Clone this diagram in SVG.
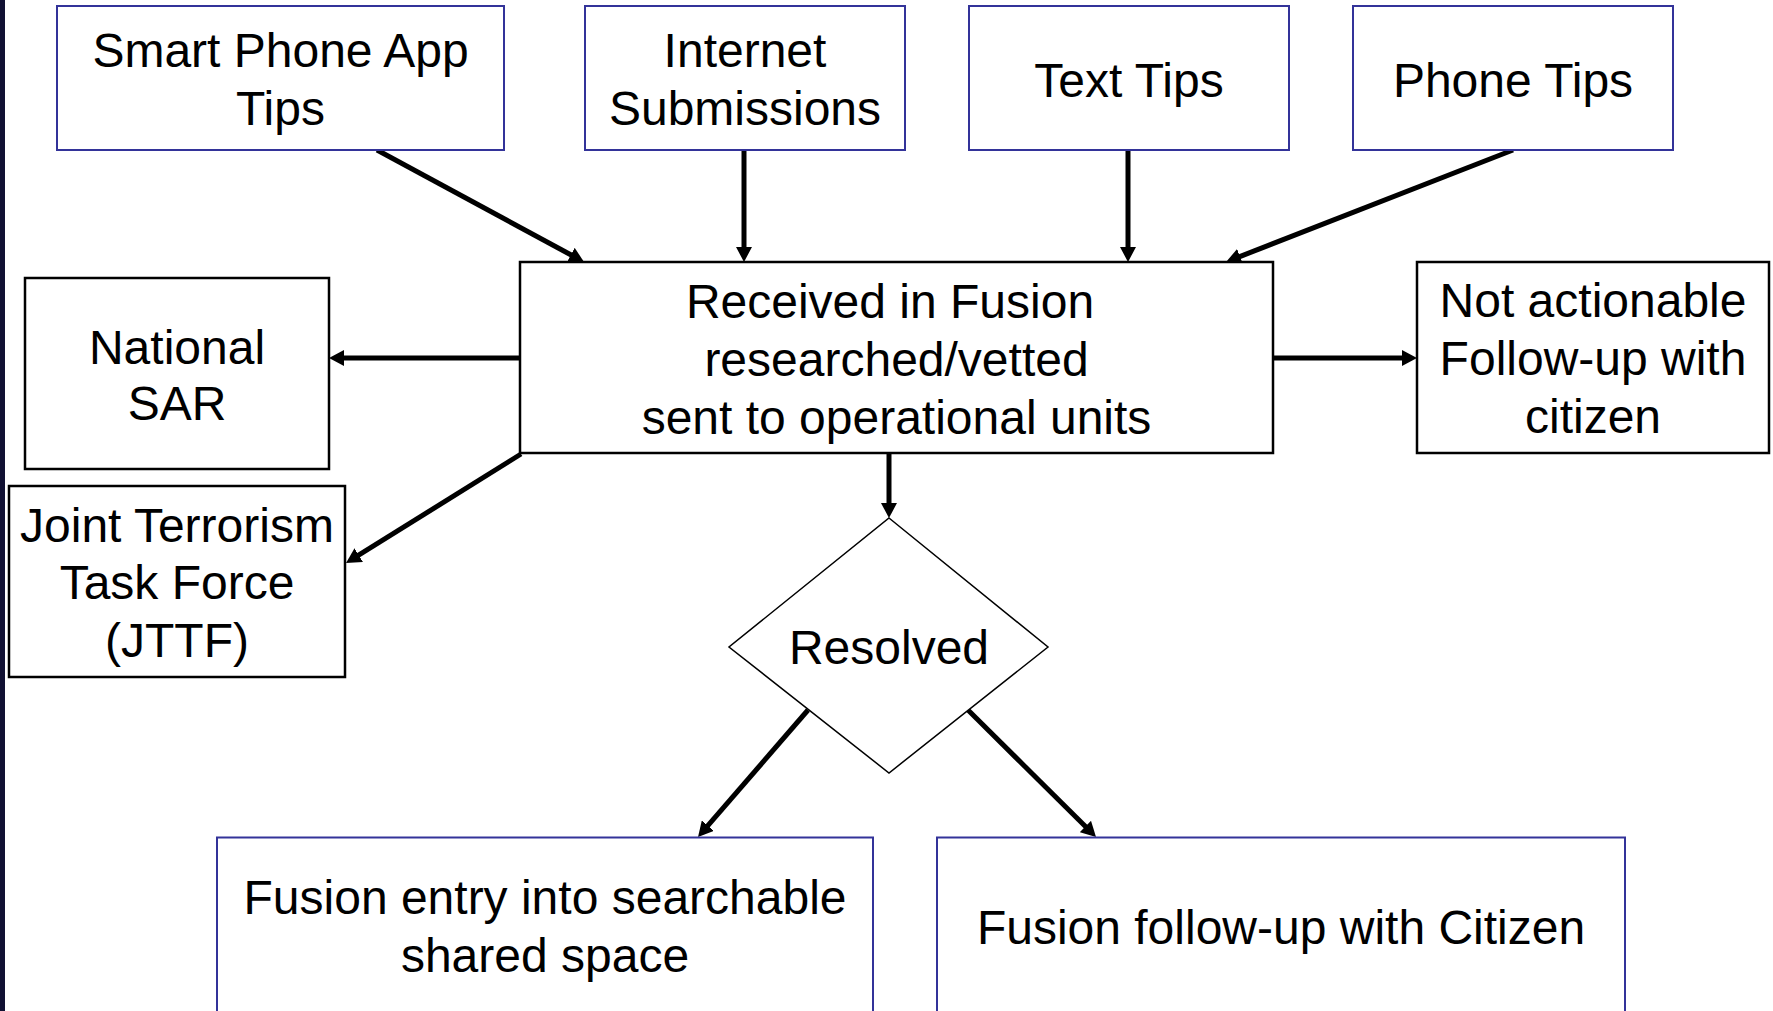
<svg xmlns="http://www.w3.org/2000/svg" width="1773" height="1011" viewBox="0 0 1773 1011">
<style>
text{font-family:"Liberation Sans",Arial,sans-serif;font-size:48px;fill:#000;text-anchor:middle}
.blue{fill:#fff;stroke:#333399;stroke-width:2}
.blk{fill:#fff;stroke:#000;stroke-width:2.5}
.dia{fill:#fff;stroke:#000;stroke-width:1.5}
.con{stroke:#000;stroke-width:5;fill:none;marker-end:url(#arr)}
</style>
<defs>
<marker id="arr" markerUnits="userSpaceOnUse" markerWidth="15" markerHeight="16" viewBox="0 0 15 16" refX="3" refY="8" orient="auto">
<path d="M0,0 L15,8 L0,16 z" fill="#000"/>
</marker>
</defs>
<rect x="0" y="0" width="1773" height="1011" fill="#fff"/>
<rect x="0" y="0" width="5" height="1011" fill="#111133"/>

<g id="connectors">
<line class="con" x1="377" y1="150" x2="573.5" y2="256.3"/>
<line class="con" x1="744" y1="150" x2="744" y2="250"/>
<line class="con" x1="1128" y1="150" x2="1128" y2="250"/>
<line class="con" x1="1513" y1="150" x2="1237.2" y2="257.6"/>
<line class="con" x1="520" y1="358" x2="341" y2="358"/>
<line class="con" x1="521" y1="454" x2="356.2" y2="556.7"/>
<line class="con" x1="1273" y1="358" x2="1405" y2="358"/>
<line class="con" x1="889" y1="453" x2="889" y2="506"/>
<line class="con" x1="808" y1="710" x2="705.9" y2="827.9"/>
<line class="con" x1="968" y1="710" x2="1087.5" y2="828.6"/>
</g>

<g id="smartphone">
<rect class="blue" x="57" y="6" width="447" height="144"/>
<text x="280.5" y="66.7">Smart Phone App</text>
<text x="280.5" y="124.5">Tips</text>
</g>
<g id="internet">
<rect class="blue" x="585" y="6" width="320" height="144"/>
<text x="745" y="66.7">Internet</text>
<text x="745" y="124.5">Submissions</text>
</g>
<g id="texttips">
<rect class="blue" x="969" y="6" width="320" height="144"/>
<text x="1129" y="96.5">Text Tips</text>
</g>
<g id="phonetips">
<rect class="blue" x="1353" y="6" width="320" height="144"/>
<text x="1513" y="96.5">Phone Tips</text>
</g>

<g id="received">
<rect class="blk" x="520" y="262" width="753" height="191"/>
<text x="890" y="318">Received in Fusion</text>
<text x="896.5" y="376">researched/vetted</text>
<text x="896.5" y="434">sent to operational units</text>
</g>
<g id="nationalsar">
<rect class="blk" x="25" y="278" width="304" height="191"/>
<text x="177" y="363.5">National</text>
<text x="177" y="420">SAR</text>
</g>
<g id="jttf">
<rect class="blk" x="9" y="486" width="336" height="191"/>
<text x="177" y="541.7">Joint Terrorism</text>
<text x="177" y="599">Task Force</text>
<text x="177" y="656.7">(JTTF)</text>
</g>
<g id="notactionable">
<rect class="blk" x="1417" y="262" width="352" height="191"/>
<text x="1593" y="316.7">Not actionable</text>
<text x="1593" y="375">Follow-up with</text>
<text x="1593" y="432.7">citizen</text>
</g>
<g id="resolved">
<polygon class="dia" points="889,518 1048,647 889,773 729,647"/>
<text x="889" y="664">Resolved</text>
</g>
<g id="fusionentry">
<rect class="blue" x="217" y="837.5" width="656" height="190"/>
<text x="545" y="913.5">Fusion entry into searchable</text>
<text x="545" y="971.7">shared space</text>
</g>
<g id="fusionfollowup">
<rect class="blue" x="937" y="837.5" width="688" height="190"/>
<text x="1281" y="943.5">Fusion follow-up with Citizen</text>
</g>
</svg>
